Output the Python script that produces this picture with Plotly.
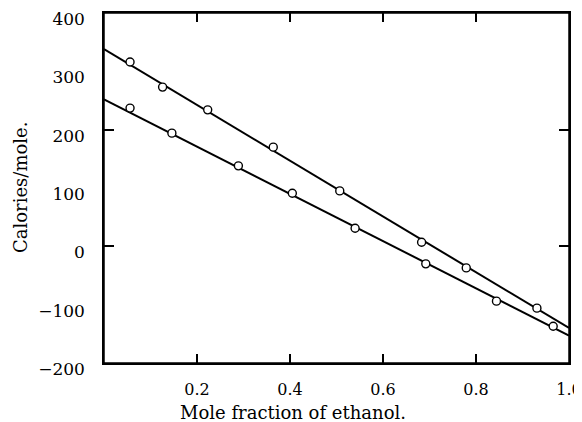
import plotly.graph_objects as go

# Measured points (mole fraction of ethanol, calories/mole)
upper_x = [0.056, 0.126, 0.223, 0.364, 0.507, 0.683, 0.779, 0.931]
upper_y = [316, 273, 234, 170, 95, 7, -37, -106]
lower_x = [0.056, 0.146, 0.289, 0.405, 0.540, 0.692, 0.844, 0.966]
lower_y = [237, 194, 138, 91, 31, -30, -94, -137]

# Fitted straight lines (endpoints at x = 0 and x = 1)
fit_x = [0.0, 1.0]
upper_fit = [338, -140]
lower_fit = [252, -153]

y_label_vals = [-200, -100, 0, 100, 200, 300, 400]
y_label_text = ["\u2212200", "\u2212100", "0", "100", "200", "300", "400"]
y_tick_vals = [0, 200]
x_tick_vals = [0.2, 0.4, 0.6, 0.8, 1.0]
x_tick_text = ["0.2", "0.4", "0.6", "0.8", "1.0"]

FONT = "DejaVu Serif"
line_style = dict(color="black", width=2)
marker_style = dict(symbol="circle", size=8, color="white", line=dict(width=1.4, color="black"))

fig = go.Figure()
fig.add_trace(go.Scatter(x=fit_x, y=upper_fit, mode="lines", line=line_style, showlegend=False, hoverinfo="skip"))
fig.add_trace(go.Scatter(x=fit_x, y=lower_fit, mode="lines", line=line_style, showlegend=False, hoverinfo="skip"))
fig.add_trace(go.Scatter(x=upper_x, y=upper_y, mode="markers", marker=marker_style, showlegend=False))
fig.add_trace(go.Scatter(x=lower_x, y=lower_y, mode="markers", marker=marker_style, showlegend=False))

# The page body has an 8px default margin, so the figure is 8px smaller
# than the window and its margins are shifted accordingly.
fig.update_layout(
    width=574, height=414,
    margin=dict(l=96, r=13, t=5, b=59),
    paper_bgcolor="white", plot_bgcolor="white",
    font=dict(family=FONT, size=17, color="black"),
    xaxis=dict(
        range=[0, 1], tickvals=x_tick_vals, ticktext=x_tick_text,
        ticks="inside", ticklen=9, tickwidth=1.5, tickcolor="black",
        showline=True, linecolor="black", linewidth=1.5, mirror="ticks",
        showgrid=False, zeroline=False, ticklabelstandoff=11,
        ticklabeloverflow="allow",
        tickfont=dict(family=FONT, size=16), automargin=False,
    ),
    yaxis=dict(
        range=[-200, 400], tickvals=y_label_vals, ticktext=y_label_text,
        ticks="outside", ticklen=0, tickcolor="black",
        minor=dict(tickvals=y_tick_vals, ticks="inside", ticklen=10,
                   tickwidth=1.5, tickcolor="black", showgrid=False),
        showline=True, linecolor="black", linewidth=1.5, mirror="ticks",
        showgrid=False, zeroline=False, ticklabelstandoff=14,
        ticklabelshift=6, ticklabeloverflow="allow",
        tickfont=dict(family=FONT, size=17), automargin=False,
    ),
    shapes=[dict(type="rect", xref="paper", yref="paper", x0=0, y0=0, x1=1, y1=1,
                 line=dict(color="black", width=1.5), fillcolor="rgba(0,0,0,0)", layer="above")],
    annotations=[
        dict(text="Mole fraction of ethanol.", xref="paper", yref="paper",
             x=0.406, y=0, yshift=-49, xanchor="center", yanchor="middle",
             showarrow=False, font=dict(family=FONT, size=18)),
        dict(text="Calories/mole.", xref="paper", yref="paper",
             x=0, y=0.5, xshift=-84, xanchor="center", yanchor="middle",
             textangle=-90, showarrow=False, font=dict(family=FONT, size=18)),
    ],
)

fig.write_html("out.html")
